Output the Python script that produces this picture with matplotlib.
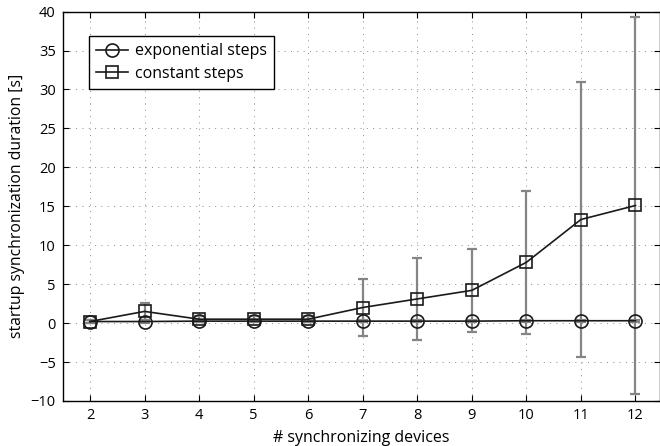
import matplotlib
matplotlib.use("Agg")
import matplotlib.pyplot as plt

plt.rcParams['font.family'] = ['Open Sans', 'DejaVu Sans']

devices = [2, 3, 4, 5, 6, 7, 8, 9, 10, 11, 12]
exp_mean = [0.2, 0.2, 0.25, 0.25, 0.25, 0.25, 0.25, 0.25, 0.3, 0.3, 0.3]
exp_err = [0.15, 0.15, 0.15, 0.15, 0.15, 0.15, 0.15, 0.15, 0.15, 0.15, 0.15]
const_mean = [0.2, 1.5, 0.5, 0.5, 0.5, 2.0, 3.1, 4.2, 7.8, 13.3, 15.1]
const_err = [0.2, 1.1, 0.4, 0.4, 0.4, 3.7, 5.3, 5.3, 9.2, 17.6, 24.2]

fig = plt.figure(figsize=(6.6, 4.46), dpi=100)
ax = fig.add_axes([0.095, 0.101, 0.905, 0.873])

ec = '#858585'
ax.errorbar(devices, exp_mean, yerr=exp_err, fmt='none', ecolor=ec, elinewidth=1.6, capsize=3.8, capthick=1.6, zorder=2)
ax.errorbar(devices, const_mean, yerr=const_err, fmt='none', ecolor=ec, elinewidth=1.6, capsize=3.8, capthick=1.6, zorder=2)
ax.plot(devices, exp_mean, color='#1a1a1a', lw=1.2, marker='o', ms=9.4, mfc='none', mec='#1a1a1a', mew=1.2, label='exponential steps', zorder=3)
ax.plot(devices, const_mean, color='#1a1a1a', lw=1.2, marker='s', ms=8, mfc='none', mec='#1a1a1a', mew=1.2, label='constant steps', zorder=3)

ax.set_xlim(1.5, 12.45)
ax.set_ylim(-10, 40)
ax.set_xticks(devices)
ax.set_yticks(range(-10, 41, 5))
ax.grid(True, linestyle=(0, (1, 5.5)), color='#8a8a8a', linewidth=0.7)
ax.tick_params(direction='in', top=True, right=True, labelsize=10.5, length=4, pad=5)
for s in ax.spines.values():
    s.set_linewidth(1.0)
ax.set_xlabel('# synchronizing devices', fontsize=11.5, labelpad=5)
ax.set_ylabel('startup synchronization duration [s]', fontsize=11.3, labelpad=4)
leg = ax.legend(loc='upper left', bbox_to_anchor=(0.044, 0.9375), fontsize=11.5, fancybox=False,
                edgecolor='black', framealpha=1, handlelength=2.0, borderpad=0.45,
                labelspacing=0.4, handletextpad=0.4, borderaxespad=0)
leg.get_frame().set_linewidth(1.0)

fig.savefig('out.png', dpi=100)
